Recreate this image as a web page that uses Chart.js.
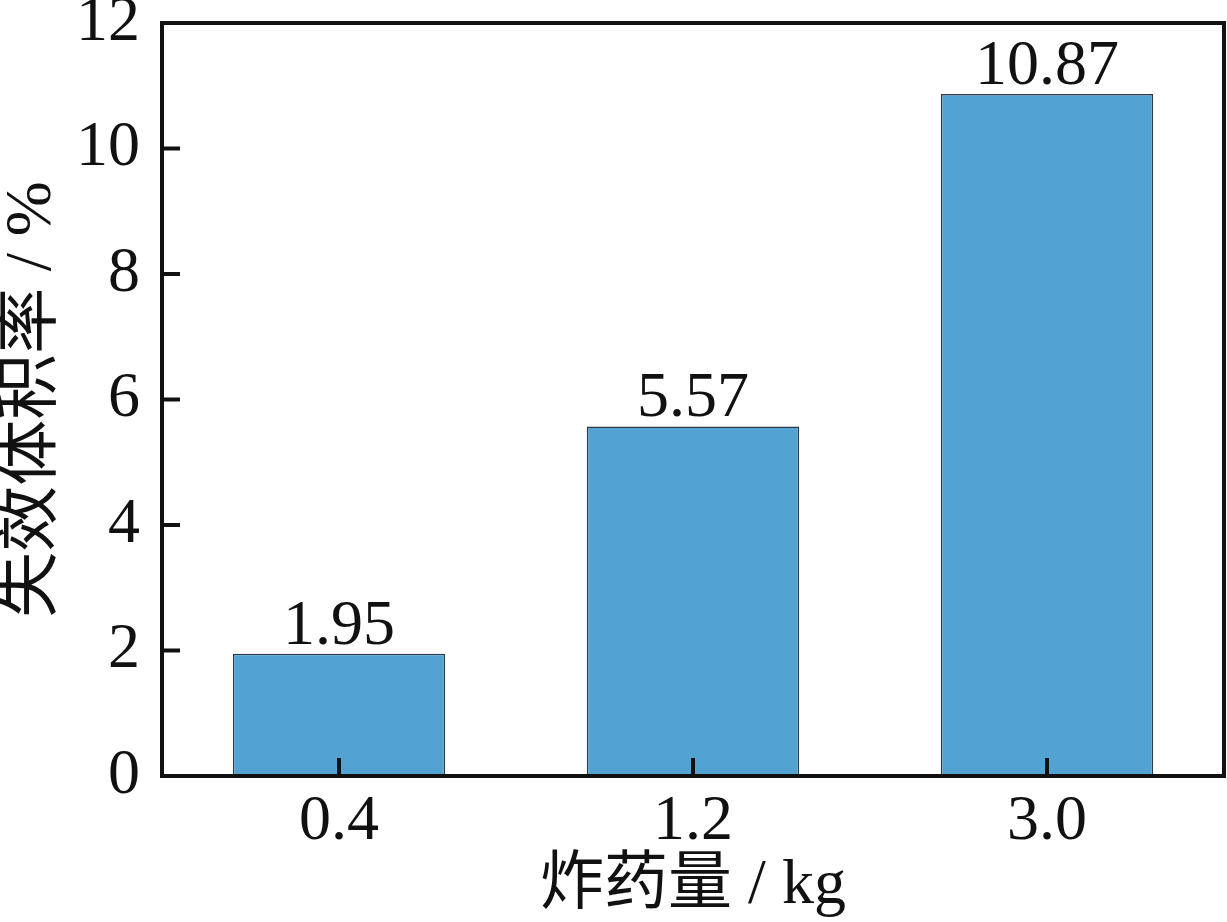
<!DOCTYPE html>
<html>
<head>
<meta charset="utf-8">
<script src="https://cdn.jsdelivr.net/npm/chart.js@4.4.1/dist/chart.umd.min.js"></script>
<style>
  html, body { margin: 0; padding: 0; background: #fff; }
  #wrap { width: 1227px; height: 922px; }
</style>
</head>
<body>
<div id="wrap"><canvas id="myChart"></canvas></div>
<script>
// data
const charges = ['0.4', '1.2', '3.0'];
const failureRates = [1.95, 5.57, 10.87];
const yTicks = [0, 2, 4, 6, 8, 10, 12];

const serif = "'Liberation Serif', 'Times New Roman', 'Noto Sans CJK SC', serif";

// frame + inward ticks
const framePlugin = {
    id: 'frame',
    afterDatasetsDraw(chart) {
        const ctx = chart.ctx;
        const area = chart.chartArea;
        const x = chart.scales.x, y = chart.scales.y;
        ctx.save();
        ctx.strokeStyle = '#111';
        ctx.lineWidth = 4;
        ctx.beginPath();
        yTicks.forEach(function (v) {
            const py = y.getPixelForValue(v);
            ctx.moveTo(area.left, py);
            ctx.lineTo(area.left + 18, py);
        });
        charges.forEach(function (c, i) {
            const px = x.getPixelForValue(i);
            ctx.moveTo(px, area.bottom);
            ctx.lineTo(px, area.bottom - 18);
        });
        ctx.stroke();
        ctx.strokeRect(area.left, area.top, area.right - area.left, area.bottom - area.top);
        ctx.restore();
    }
};

// value labels above bars
const labelPlugin = {
    id: 'valueLabels',
    afterDatasetsDraw(chart) {
        const ctx = chart.ctx;
        const meta = chart.getDatasetMeta(0);
        ctx.save();
        ctx.font = '64px ' + serif;
        ctx.fillStyle = '#111';
        ctx.textAlign = 'center';
        ctx.textBaseline = 'alphabetic';
        meta.data.forEach(function (bar, i) {
            ctx.fillText(failureRates[i].toFixed(2), bar.x, bar.y - 10);
        });
        ctx.restore();
    }
};

const ctx = document.getElementById('myChart').getContext('2d');
const myChart = new Chart(ctx, {
    type: 'bar',
    data: {
        labels: charges,
        datasets: [{
            data: failureRates,
            backgroundColor: '#52a2d2',
            borderColor: '#2b3a44',
            borderWidth: 1.5,
            barPercentage: 0.6,
            categoryPercentage: 1.0
        }]
    },
    options: {
        responsive: true,
        maintainAspectRatio: false,
        animation: false,
        layout: { padding: { top: 23, right: 3, left: 0, bottom: 0 } },
        plugins: {
            legend: { display: false },
            tooltip: { enabled: false }
        },
        scales: {
            x: {
                grid: { display: false, drawTicks: false },
                border: { display: false },
                ticks: {
                    color: '#111',
                    font: { family: serif, size: 64, lineHeight: 1 },
                    padding: 14
                },
                title: {
                    display: true,
                    text: '炸药量 / kg',
                    color: '#111',
                    font: { family: serif, size: 64, lineHeight: 1.05 },
                    padding: { top: 0, bottom: 2 }
                },
                afterFit: function (s) {
                    s.height = 146;
                    s.paddingLeft = 0;
                    s.paddingRight = 0;
                }
            },
            y: {
                min: 0,
                max: 12,
                grid: { display: false, drawTicks: false },
                border: { display: false },
                ticks: {
                    stepSize: 2,
                    color: '#111',
                    font: { family: serif, size: 64, lineHeight: 0.72 },
                    padding: 22
                },
                title: {
                    display: true,
                    text: '失效体积率 / %',
                    color: '#111',
                    font: { family: serif, size: 66, lineHeight: 1.0 },
                    padding: { top: 0, bottom: 0 }
                },
                afterFit: function (s) {
                    s.width = 162;
                    s.paddingTop = 0;
                    s.paddingBottom = 0;
                }
            }
        }
    },
    plugins: [framePlugin, labelPlugin]
});
</script>
</body>
</html>
